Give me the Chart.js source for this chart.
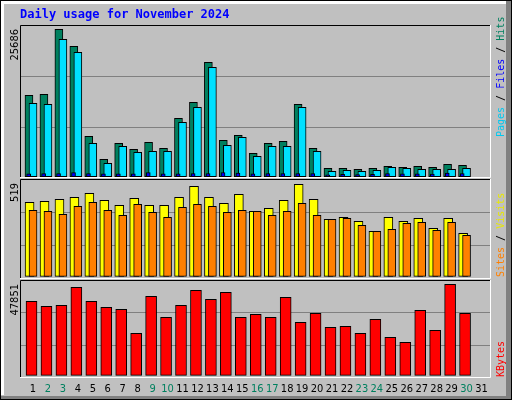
<!DOCTYPE html>
<html>
<head>
<meta charset="utf-8">
<script src="https://cdn.jsdelivr.net/npm/chart.js@4"></script>
<style>
  html, body { margin: 0; padding: 0; }
  body { width: 512px; height: 400px; position: relative; background: #c0c0c0; overflow: hidden; }
  #frame { position: absolute; left: 0; top: 0; width: 512px; height: 400px; box-sizing: border-box;
    border: 1px solid #000; }
  #hl { position: absolute; left: 1px; top: 1px; width: 505px; height: 394px; box-sizing: border-box;
    border-left: 3px solid #fff; border-top: 3px solid #fff; }
  #shR { position: absolute; left: 506px; top: 1px; width: 5px; height: 398px; background: #808080; }
  #shB { position: absolute; left: 1px; top: 396px; width: 510px; height: 3px; background: #808080; }
  canvas { position: absolute; left: 0; }
</style>
</head>
<body>
<div id="frame"></div><div id="hl"></div><div id="shR"></div><div id="shB"></div>
<canvas id="c-hits" style="top:0px" width="512" height="178"></canvas>
<canvas id="c-visits" style="top:178px" width="512" height="101"></canvas>
<canvas id="c-kbytes" style="top:279px" width="512" height="121"></canvas>
<script>
// Webalizer style daily usage, November 2024

const days = [];
for (let d = 1; d <= 30; d += 1) days.push(d);
const dayLabels = ["1","2","3","4","5","6","7","8","9","10","11","12","13","14","15","16",
  "17","18","19","20","21","22","23","24","25","26","27","28","29","30","31"];
const weekendDays = [2, 3, 9, 10, 16, 17, 23, 24, 30];

const hits = [14185, 14360, 25686, 22730, 7040, 3030, 5820, 4780, 6000, 4950, 10180, 12970,
  19940, 6340, 7220, 4080, 5820, 6170, 12620, 4950, 1460, 1460, 1290, 1460, 1810, 1640,
  1810, 1640, 2160, 1990];
const files = [12790, 12620, 23950, 21680, 5820, 2340, 5300, 4250, 4430, 4430, 9480, 12100,
  19070, 5470, 6870, 3560, 5300, 5300, 12100, 4430, 940, 1115, 940, 1115, 1640, 1460,
  1290, 1290, 1290, 1460];
const pages = [520, 540, 560, 700, 560, 480, 520, 500, 700, 500, 500, 560, 560, 700, 640,
  520, 540, 560, 560, 560, 340, 400, 380, 400, 560, 500, 480, 440, 620, 560];
const visits = [417, 423, 434, 446, 468, 429, 400, 440, 400, 400, 446, 508, 446, 412, 462,
  367, 384, 429, 519, 434, 321, 333, 310, 254, 333, 310, 327, 271, 327, 243];
const sites = [372, 367, 350, 395, 417, 372, 344, 406, 361, 333, 389, 406, 395, 361, 372,
  367, 344, 367, 412, 344, 321, 327, 288, 254, 265, 299, 305, 259, 305, 231];
const kbytes = [38910, 36280, 36810, 46270, 38910, 35750, 34700, 22080, 41540, 30500, 36810,
  44690, 39960, 43640, 30500, 32070, 30500, 41010, 27870, 32600, 25240, 25760, 22080, 29440,
  19980, 17350, 34180, 23660, 47851, 32600];

const maxHits = "25686";
const maxVisits = "519";
const maxKbytes = "47851";

const X_MIN = 0.13;
const X_MAX = 31.635;
const NARROW = "'DejaVu Sans Condensed', 'Liberation Sans Narrow', 'DejaVu Sans', sans-serif";
const MONO = "'DejaVu Sans Mono', 'Liberation Mono', monospace";

function points(values, shift) {
  return days.map((d, i) => ({ x: d + shift, y: values[i] }));
}

function barSet(values, shift, color, thickness, order) {
  return {
    data: points(values, shift),
    backgroundColor: color,
    borderColor: "#000000",
    borderWidth: 1,
    borderSkipped: false,
    barThickness: thickness,
    grouped: false,
    order: order,
  };
}

// draws panel frame, side labels and (optionally) day labels
const decorPlugin = {
  id: "decor",
  afterDraw(chart, args, opts) {
    const ctx = chart.ctx;
    const a = chart.chartArea;
    ctx.save();
    ctx.lineWidth = 1;
    ctx.strokeStyle = "#000000";
    ctx.beginPath();
    ctx.moveTo(a.left + 0.5, a.bottom);
    ctx.lineTo(a.left + 0.5, a.top + 0.5);
    ctx.lineTo(a.right, a.top + 0.5);
    ctx.stroke();
    ctx.strokeStyle = "#ffffff";
    ctx.beginPath();
    ctx.moveTo(a.right - 0.5, a.top);
    ctx.lineTo(a.right - 0.5, a.bottom - 0.5);
    ctx.lineTo(a.left, a.bottom - 0.5);
    ctx.stroke();

    if (opts.title) {
      ctx.font = "bold 12px " + MONO;
      ctx.fillStyle = "#0000ff";
      ctx.textBaseline = "middle";
      ctx.textAlign = "left";
      ctx.fillText(opts.title, 20, 15);
    }

    // max value, rotated on the left
    ctx.save();
    ctx.translate(15, a.top + 4);
    ctx.rotate(-Math.PI / 2);
    ctx.font = "11px " + NARROW;
    ctx.fillStyle = "#000000";
    ctx.textAlign = "right";
    ctx.textBaseline = "middle";
    ctx.fillText(opts.maxLabel, 0, 0);
    ctx.restore();

    // legend, rotated on the right
    ctx.save();
    ctx.translate(501, opts.legendBottom - chart.canvas.offsetTop);
    ctx.rotate(-Math.PI / 2);
    ctx.font = "10px " + MONO;
    ctx.textAlign = "left";
    ctx.textBaseline = "middle";
    let x = 0;
    opts.legend.forEach((p) => {
      ctx.fillStyle = p.color;
      ctx.fillText(p.text, x, 0);
      x += ctx.measureText(p.text).width;
    });
    ctx.restore();

    if (opts.dayLabels) {
      const sx = chart.scales.x;
      ctx.font = "11px " + NARROW;
      ctx.textAlign = "center";
      ctx.textBaseline = "middle";
      dayLabels.forEach((lab, i) => {
        const d = i + 1;
        ctx.fillStyle = weekendDays.includes(d) ? "#00805f" : "#000000";
        ctx.fillText(lab, sx.getPixelForValue(d), a.bottom + 11);
      });
    }
    ctx.restore();
  },
};

function makePanel(id, datasets, yMin, yMax, padding, decor) {
  return new Chart(document.getElementById(id), {
    type: "bar",
    data: { datasets },
    plugins: [decorPlugin],
    options: {
      responsive: false,
      animation: false,
      events: [],
      layout: { padding },
      plugins: { legend: { display: false }, tooltip: { enabled: false }, decor },
      scales: {
        x: { type: "linear", min: X_MIN, max: X_MAX, display: false, offset: false },
        y: {
          min: yMin,
          max: yMax,
          afterBuildTicks: (s) => {
            const r = s.max - s.min;
            s.ticks = [{ value: s.min + r / 3 }, { value: s.min + (2 * r) / 3 }];
          },
          ticks: { display: false },
          border: { display: false },
          grid: { color: "#808080", drawTicks: false, lineWidth: 1 },
        },
      },
    },
  });
}

makePanel("c-hits", [
  barSet(pages, -0.29, "#0000ff", 4, 0),
  barSet(files, 0, "#00e0ff", 8, 1),
  barSet(hits, -0.27, "#00805f", 8, 2),
], -227, 26436, { top: 25, left: 20, right: 21, bottom: 0 }, {
  title: "Daily usage for November 2024",
  maxLabel: maxHits,
  legendBottom: 137,
  legend: [
    { text: "Pages", color: "#00c8f0" }, { text: " / ", color: "#000000" },
    { text: "Files", color: "#0000ff" }, { text: " / ", color: "#000000" },
    { text: "Hits", color: "#00805f" },
  ],
});

makePanel("c-visits", [
  barSet(sites, 0, "#ff8000", 8, 0),
  barSet(visits, -0.23, "#ffff00", 9, 1),
], -15, 549, { top: 1, left: 20, right: 21, bottom: 0 }, {
  maxLabel: maxVisits,
  legendBottom: 277,
  legend: [
    { text: "Sites", color: "#ff8000" }, { text: " / ", color: "#000000" },
    { text: "Visits", color: "#e8e800" },
  ],
});

makePanel("c-kbytes", [
  barSet(kbytes, -0.1, "#ff0000", 11, 0),
], -1420, 50112, { top: 1, left: 20, right: 21, bottom: 22 }, {
  maxLabel: maxKbytes,
  legendBottom: 377,
  legend: [{ text: "KBytes", color: "#ff0000" }],
  dayLabels: true,
});
</script>
</body>
</html>
